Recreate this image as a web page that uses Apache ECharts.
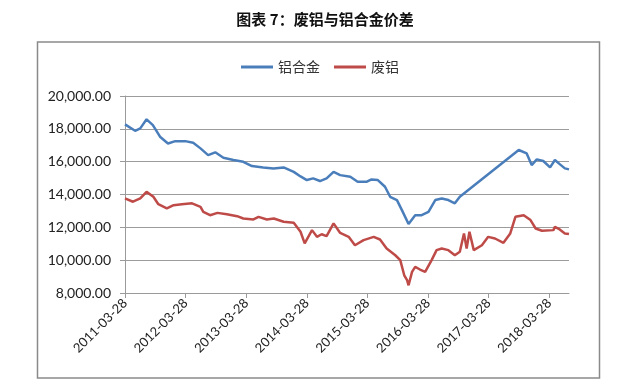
<!DOCTYPE html>
<html>
<head>
<meta charset="utf-8">
<script src="https://cdn.jsdelivr.net/npm/echarts@6/dist/echarts.min.js"></script>
<style>html,body{margin:0;padding:0;background:#fff;}#c{width:619px;height:391px;}</style>
</head>
<body>
<div id="c"></div>
<script>
var titleText = '图表 7：废铝与铝合金价差';
var seriesNames = ['铝合金', '废铝'];
var tickDates = ['2011-03-28','2012-03-28','2013-03-28','2014-03-28','2015-03-28','2016-03-28','2017-03-28','2018-03-28'];
var yTicks = [8000, 10000, 12000, 14000, 16000, 18000, 20000];

var alloyDates = ['2011-03-28','2011-05-28','2011-06-28','2011-08-05','2011-09-12','2011-10-25','2011-12-12','2012-01-25','2012-03-25','2012-05-12','2012-06-25','2012-08-10','2012-09-22','2012-11-10','2013-01-10','2013-03-10','2013-05-01','2013-07-08','2013-09-08','2013-11-08','2014-01-08','2014-02-18','2014-03-28','2014-05-05','2014-06-15','2014-07-25','2014-09-05','2014-10-15','2014-12-15','2015-01-28','2015-03-25','2015-04-22','2015-05-30','2015-07-12','2015-08-12','2015-09-22','2015-10-22','2015-12-01','2016-01-10','2016-02-18','2016-03-30','2016-05-10','2016-06-18','2016-07-28','2016-09-05','2016-10-05','2017-09-25','2017-11-12','2017-12-12','2018-01-12','2018-02-20','2018-04-02','2018-05-01','2018-05-30','2018-06-30','2018-07-25'];
var alloyValues = [18270,17880,18030,18580,18230,17520,17110,17250,17250,17150,16810,16400,16570,16240,16100,15990,15730,15650,15590,15650,15380,15100,14880,14980,14820,14980,15380,15180,15080,14780,14780,14920,14880,14470,13860,13660,13050,12200,12740,12740,12940,13660,13760,13660,13460,13860,16710,16500,15790,16140,16040,15650,16100,15850,15590,15530];

var scrapDates = ['2011-03-28','2011-05-15','2011-06-28','2011-08-05','2011-09-15','2011-10-15','2011-12-05','2012-01-15','2012-03-05','2012-05-05','2012-06-25','2012-07-12','2012-08-22','2012-10-05','2012-12-01','2013-02-01','2013-03-10','2013-05-10','2013-06-10','2013-07-30','2013-09-10','2013-11-08','2014-01-08','2014-02-18','2014-03-15','2014-04-28','2014-05-28','2014-06-25','2014-07-25','2014-09-05','2014-10-15','2014-12-05','2015-01-12','2015-03-05','2015-05-05','2015-06-12','2015-07-22','2015-09-12','2015-10-12','2015-11-05','2015-11-22','2015-12-01','2015-12-22','2016-01-10','2016-02-08','2016-03-10','2016-04-18','2016-05-18','2016-06-18','2016-07-28','2016-09-05','2016-10-05','2016-10-30','2016-11-15','2016-12-02','2016-12-28','2017-02-15','2017-03-25','2017-05-05','2017-06-25','2017-08-05','2017-09-05','2017-10-25','2017-12-05','2018-01-05','2018-02-12','2018-04-22','2018-05-01','2018-05-30','2018-06-30','2018-07-25'];
var scrapValues = [13760,13560,13760,14160,13860,13410,13150,13350,13410,13460,13250,12940,12740,12880,12800,12680,12540,12480,12640,12480,12540,12340,12280,11730,11020,11830,11420,11580,11460,12240,11660,11420,10910,11220,11420,11260,10710,10300,10000,9080,8780,8470,9290,9590,9430,9290,10000,10610,10710,10610,10300,10510,11630,10710,11730,10610,10910,11420,11320,11060,11630,12640,12740,12440,11930,11790,11830,12030,11870,11630,11590];

var xStart = '2011-03-28', xEnd = '2018-07-25';

function ts(s){ var p = s.split('-'); return new Date(+p[0], +p[1]-1, +p[2]).getTime(); }
function pairs(d, v){ return d.map(function(x, i){ return [ts(x), v[i]]; }); }
function fmtNum(v){ return v.toFixed(2).replace(/\B(?=(\d{3})+(?!\d))/g, ','); }
function fmtDate(v){ var d = new Date(v); var m = d.getMonth()+1, dd = d.getDate();
  return d.getFullYear() + '-' + (m<10?'0':'') + m + '-' + (dd<10?'0':'') + dd; }

var chart = echarts.init(document.getElementById('c'), null, {renderer: 'canvas'});
var labelFont = 'Lato, "Noto Sans", sans-serif';
chart.setOption({
  animation: false,
  backgroundColor: '#fff',
  title: {
    text: titleText, left: 320, top: 7, textAlign: 'center',
    textStyle: {fontFamily: '"Noto Sans CJK SC", sans-serif', fontSize: 15, fontWeight: 'bold', color: '#111'}
  },
  graphic: [{
    type: 'rect', shape: {x: 37.5, y: 42, width: 562, height: 336},
    style: {fill: 'none', stroke: '#8a8a8a', lineWidth: 1.5}, z: -1
  }],
  legend: {
    top: 55, left: 236, itemWidth: 32, itemHeight: 3, itemGap: 14,
    icon: 'rect',
    textStyle: {fontFamily: '"Noto Sans CJK SC", sans-serif', fontSize: 14, color: '#333'},
    data: seriesNames
  },
  grid: {left: 125, right: 50, top: 96, bottom: 98, containLabel: false},
  xAxis: {
    type: 'value', min: ts(xStart), max: ts(xEnd),
    splitLine: {show: false},
    axisLine: {lineStyle: {color: '#9a9a9a', width: 1}},
    axisTick: {show: true, length: 5, lineStyle: {color: '#9a9a9a'}, customValues: tickDates.map(ts)},
    axisLabel: {
      customValues: tickDates.map(ts), rotate: 45, margin: 8,
      fontFamily: labelFont, fontSize: 13, color: '#222',
      formatter: function(v){ return fmtDate(v); }
    }
  },
  yAxis: {
    type: 'value', min: 8000, max: 20000, interval: 2000,
    axisLine: {show: true, lineStyle: {color: '#9a9a9a', width: 1}},
    axisTick: {show: true, length: 5, lineStyle: {color: '#9a9a9a'}},
    splitLine: {lineStyle: {color: '#9c9c9c', width: 1}},
    axisLabel: {
      margin: 14, fontFamily: labelFont, fontSize: 14, color: '#222',
      formatter: function(v){ return fmtNum(v); }
    }
  },
  series: [
    {name: seriesNames[0], type: 'line', symbol: 'none', data: pairs(alloyDates, alloyValues),
     lineStyle: {color: '#4a7ebb', width: 2.5}, itemStyle: {color: '#4a7ebb'}},
    {name: seriesNames[1], type: 'line', symbol: 'none', data: pairs(scrapDates, scrapValues),
     lineStyle: {color: '#be4b48', width: 2.5}, itemStyle: {color: '#be4b48'}}
  ]
});
</script>
</body>
</html>
